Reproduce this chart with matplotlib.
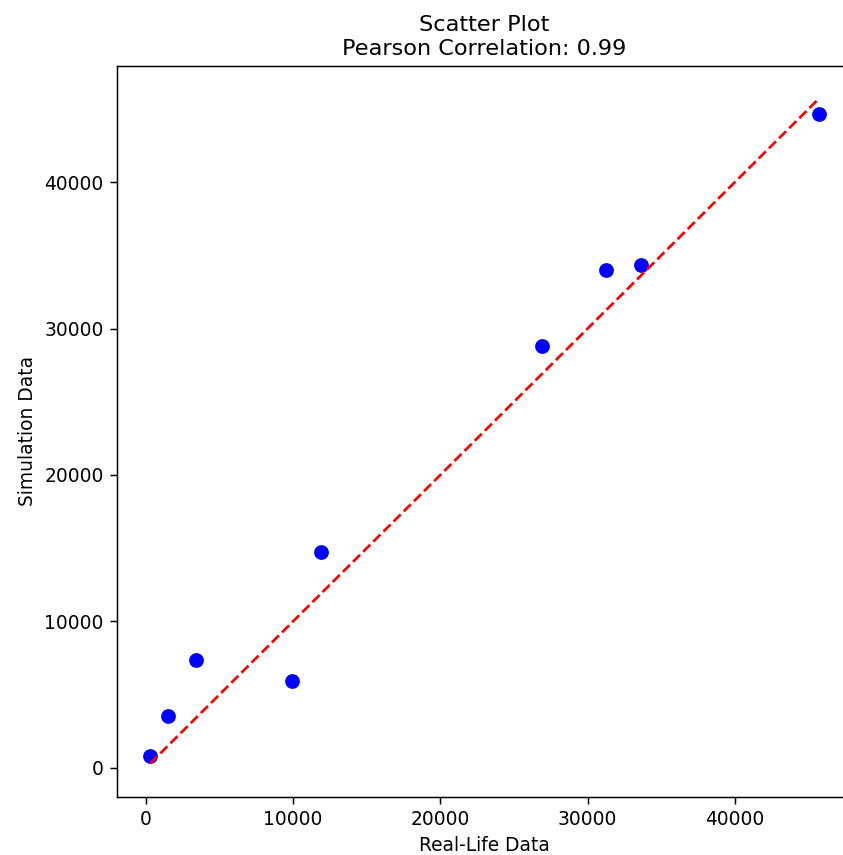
import numpy as np
import matplotlib
matplotlib.use("Agg")
import matplotlib.pyplot as plt

# values
real_life = [300, 1540, 3390, 9950, 11900, 26930, 31260, 33630, 45680]
simulation = [840, 3570, 7390, 5910, 14730, 28820, 34030, 34320, 44660]

corr = np.corrcoef(real_life, simulation)[0, 1]

DPI = 134
fig = plt.figure(figsize=(843 / DPI, 855 / DPI), dpi=DPI)
# axes run slightly past the right edge, as in the (cropped) reference
ax = fig.add_axes([116.7 / 843, (855 - 796.7) / 855, (852 - 116.7) / 843, (796.7 - 65.7) / 855])

ax.scatter(real_life, simulation, color="blue", s=48)
lo, hi = min(real_life), max(real_life)
ax.plot([lo, hi], [lo, hi], "r--", lw=1.45)
ax.spines["right"].set_visible(False)

ax.set_title(f"Scatter Plot\nPearson Correlation: {corr:.2f}")
ax.set_xlabel("Real-Life Data")
ax.set_ylabel("Simulation Data")

fig.savefig("out.png", dpi=DPI)
